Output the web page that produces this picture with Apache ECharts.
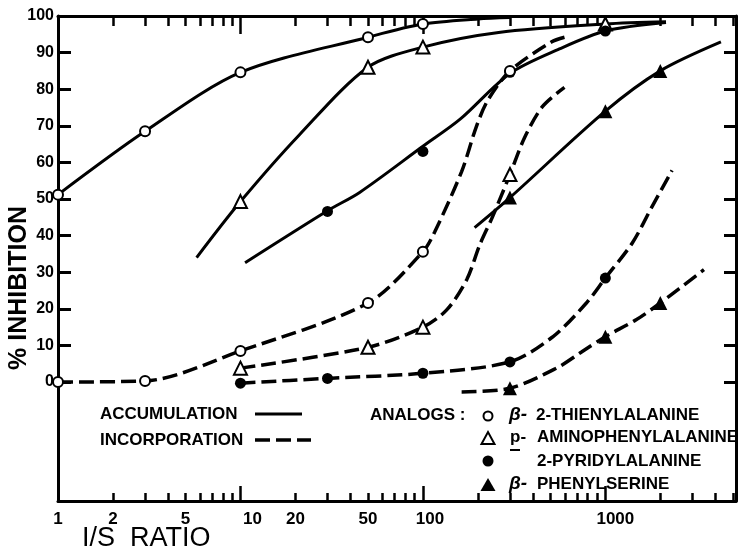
<!DOCTYPE html>
<html><head><meta charset="utf-8">
<script src="https://cdn.jsdelivr.net/npm/echarts@6/dist/echarts.min.js"></script>
<style>html,body{margin:0;padding:0;background:#fff}#c{width:738px;height:549px}</style>
</head><body><div id="c"></div>
<script>
// ---- tick / label values ----
const xTickMajor = [1, 10, 100, 1000];
const xTickMinor = [2,3,4,5,6,7,8,9,20,30,40,50,60,70,80,90,200,300,400,500,600,700,800,900,2000,3000,4000,5000];
const xLabels = [1, 2, 5, 10, 20, 50, 100, 1000];
const yTicks = [0, 10, 20, 30, 40, 50, 60, 70, 80, 90, 100];

// ---- ACCUMULATION (solid) : markers and curve ----
const thienylAccPts   = [[1,51.2],[3,68.5],[10,84.6],[50,94.2],[100,97.8]];
const thienylAccCurve = [[1,51.2],[3,68.5],[10,84.6],[50,94.2],[100,97.8],[200,99.2],[300,99.6]];
const aminoAccPts     = [[10,49.3],[50,86],[100,91.5],[1000,97.8]];
const aminoAccCurve   = [[5.75,34],[10,49.3],[21,67.5],[50,86],[100,91.5],[260,95.5],[1000,97.8],[2150,98.4]];
const pyridylAccPts   = [[30,46.6],[100,63],[300,84.6],[1000,95.9]];
const pyridylAccCurve = [[10.6,32.6],[30,46.8],[45,51.8],[100,64.4],[160,71.8],[300,84.3],[560,91],[1000,95.9],[2150,98.2]];
const phenylAccPts    = [[300,50.4],[1000,74],[2000,85]];
const phenylAccCurve  = [[192,42.2],[300,50.4],[1000,74],[2000,85],[4300,92.9]];

// ---- INCORPORATION (dashed) ----
const thienylIncPts   = [[1,0],[3,0.3],[10,8.5],[50,21.6],[100,35.6],[300,85]];
const thienylIncCurve = [[1,0],[3,0.3],[10,8.5],[50,21.6],[100,35.6],[116,41],[163,57.5],[197,70],[227,77],[300,85],[506,92.9],[597,94.2]];
const aminoIncPts     = [[10,3.8],[50,9.5],[100,15],[300,56.7]];
const aminoIncCurve   = [[10,3.8],[50,9.5],[100,15],[135,19.7],[174,28],[205,37.5],[240,45],[300,56.7],[361,66.8],[453,75.3],[597,80.5]];
const pyridylIncPts   = [[10,-0.3],[30,1],[100,2.4],[300,5.5],[1000,28.4]];
const pyridylIncCurve = [[10,-0.3],[30,1],[100,2.4],[300,5.5],[513,12.3],[787,21.6],[1000,28.4],[1405,38],[1806,48],[2320,57.8]];
const phenylIncPts    = [[300,-1.7],[1000,12.4],[2000,21.6]];
const phenylIncCurve  = [[163,-2.7],[300,-1.7],[540,3.8],[740,8.2],[1000,12.4],[1475,17],[2000,21.6],[3470,30.7]];

const FONT = 'Liberation Sans';
const chart = echarts.init(document.getElementById('c'), null, {renderer: 'canvas'});

function curve(data, dashed) {
  return {type: 'line', data: data, smooth: 0.3, symbol: 'none', showSymbol: false,
    silent: true, z: 2,
    lineStyle: {color: '#000', width: dashed ? 3.5 : 3, type: dashed ? [15, 6] : 'solid', cap: 'butt'}};
}
function marks(data, symbol, filled, size) {
  return {type: 'scatter', data: data, symbol: symbol, symbolSize: size, clip: false, z: 3, silent: true,
    itemStyle: {color: filled ? '#000' : '#fff', borderColor: '#000', borderWidth: filled ? 0 : 2, opacity: 1}};
}
function xLabelFmt(v) {
  const n = Math.round(v);
  if (n === 10) return '{a|10}';
  if (n === 100) return '{b|100}';
  if (n === 1000) return '{c|1000}';
  return String(n);
}
const lab = {fontFamily: FONT, fontWeight: 'bold', fontSize: 17, color: '#000'};

const axLine = {show: true, onZero: false, lineStyle: {color: '#000', width: 3}};
const noLine = {show: false, onZero: false};
const xBase = {type: 'log', logBase: 10, min: 1, max: 5200, gridIndex: 0, splitLine: {show: false}};
const yBase = {type: 'value', min: -32.5, max: 100, splitLine: {show: false}};

function txt(x, y, s, extra) {
  return {type: 'text', x: x, y: y, style: Object.assign({text: s, fontFamily: FONT, fontWeight: 'bold', fontSize: 17,
    fill: '#000', textVerticalAlign: 'middle'}, extra || {})};
}

const option = {
  animation: false,
  backgroundColor: '#fff',
  grid: {left: 58, right: 2, top: 16, bottom: 48},
  xAxis: [
    Object.assign({}, xBase, {position: 'bottom', axisLine: axLine,
      axisTick: {show: true, inside: true, length: 15, customValues: xTickMajor, lineStyle: {color: '#000', width: 2.5}},
      axisLabel: Object.assign({show: true, customValues: xLabels, formatter: xLabelFmt, margin: 10,
        rich: {a: Object.assign({padding: [0, 0, 0, 24]}, lab), b: Object.assign({padding: [0, 0, 0, 14]}, lab),
               c: Object.assign({padding: [0, 0, 0, 20]}, lab)}}, lab)}),
    Object.assign({}, xBase, {position: 'bottom', axisLine: noLine,
      axisTick: {show: true, inside: true, length: 8, customValues: xTickMinor, lineStyle: {color: '#000', width: 2.5}},
      axisLabel: {show: false}}),
    Object.assign({}, xBase, {position: 'top', axisLine: axLine,
      axisTick: {show: true, inside: true, length: 18, customValues: xTickMajor, lineStyle: {color: '#000', width: 2.5}},
      axisLabel: {show: false}}),
    Object.assign({}, xBase, {position: 'top', axisLine: noLine,
      axisTick: {show: true, inside: true, length: 10, customValues: xTickMinor, lineStyle: {color: '#000', width: 2.5}},
      axisLabel: {show: false}})
  ],
  yAxis: [
    Object.assign({}, yBase, {position: 'left', axisLine: axLine,
      axisTick: {show: true, inside: true, length: 13, customValues: yTicks, lineStyle: {color: '#000', width: 3}},
      axisLabel: {show: true, customValues: yTicks, color: '#000', fontFamily: FONT, fontWeight: 'bold', fontSize: 16, margin: 4}}),
    Object.assign({}, yBase, {position: 'right', axisLine: axLine,
      axisTick: {show: true, inside: true, length: 12, customValues: yTicks, lineStyle: {color: '#000', width: 3}},
      axisLabel: {show: false}})
  ],
  series: [
    curve(thienylAccCurve, false), curve(aminoAccCurve, false), curve(pyridylAccCurve, false), curve(phenylAccCurve, false),
    curve(thienylIncCurve, true), curve(aminoIncCurve, true), curve(pyridylIncCurve, true), curve(phenylIncCurve, true),
    marks(thienylAccPts, 'circle', false, 10), marks(aminoAccPts, 'triangle', false, 13),
    marks(pyridylAccPts, 'circle', true, 11), marks(phenylAccPts, 'triangle', true, 14),
    marks(thienylIncPts, 'circle', false, 10), marks(aminoIncPts, 'triangle', false, 13),
    marks(pyridylIncPts, 'circle', true, 11), marks(phenylIncPts, 'triangle', true, 14)
  ],
  graphic: [
    {type: 'text', left: 7, top: 206, rotation: Math.PI / 2, originX: 0, originY: 0,
      style: {text: '% INHIBITION', fontFamily: FONT, fontWeight: 'bold', fontSize: 25, fill: '#000'}},
    {type: 'text', x: 82, y: 539, style: {text: 'I/S  RATIO', fontFamily: FONT, fontSize: 27, fill: '#000', textVerticalAlign: 'middle'}},
    txt(100, 414, 'ACCUMULATION'),
    {type: 'line', shape: {x1: 255, y1: 414, x2: 302, y2: 414}, style: {stroke: '#000', lineWidth: 3}},
    txt(100, 440, 'INCORPORATION'),
    {type: 'line', shape: {x1: 255, y1: 440, x2: 311, y2: 440}, style: {stroke: '#000', lineWidth: 3.5, lineDash: [15, 6]}},
    txt(370, 415, 'ANALOGS :'),
    {type: 'circle', shape: {cx: 488, cy: 416, r: 4.5}, style: {fill: '#fff', stroke: '#000', lineWidth: 2}},
    {type: 'polygon', shape: {points: [[481.5, 444], [494.5, 444], [488, 432]]}, style: {fill: '#fff', stroke: '#000', lineWidth: 2}},
    {type: 'circle', shape: {cx: 488, cy: 461, r: 5.5}, style: {fill: '#000'}},
    {type: 'polygon', shape: {points: [[480.5, 491], [495.5, 491], [488, 478]]}, style: {fill: '#000'}},
    txt(509, 415, 'β-', {fontStyle: 'italic', fontSize: 19}),
    txt(536, 415, '2-THIENYLALANINE'),
    txt(510, 437, 'p-'),
    {type: 'line', shape: {x1: 510, y1: 450, x2: 520, y2: 450}, style: {stroke: '#000', lineWidth: 2}},
    txt(537, 437, 'AMINOPHENYLALANINE'),
    txt(537, 461, '2-PYRIDYLALANINE'),
    txt(509, 484, 'β-', {fontStyle: 'italic', fontSize: 19}),
    txt(537, 484, 'PHENYLSERINE')
  ]
};
chart.setOption(option);
</script></body></html>
